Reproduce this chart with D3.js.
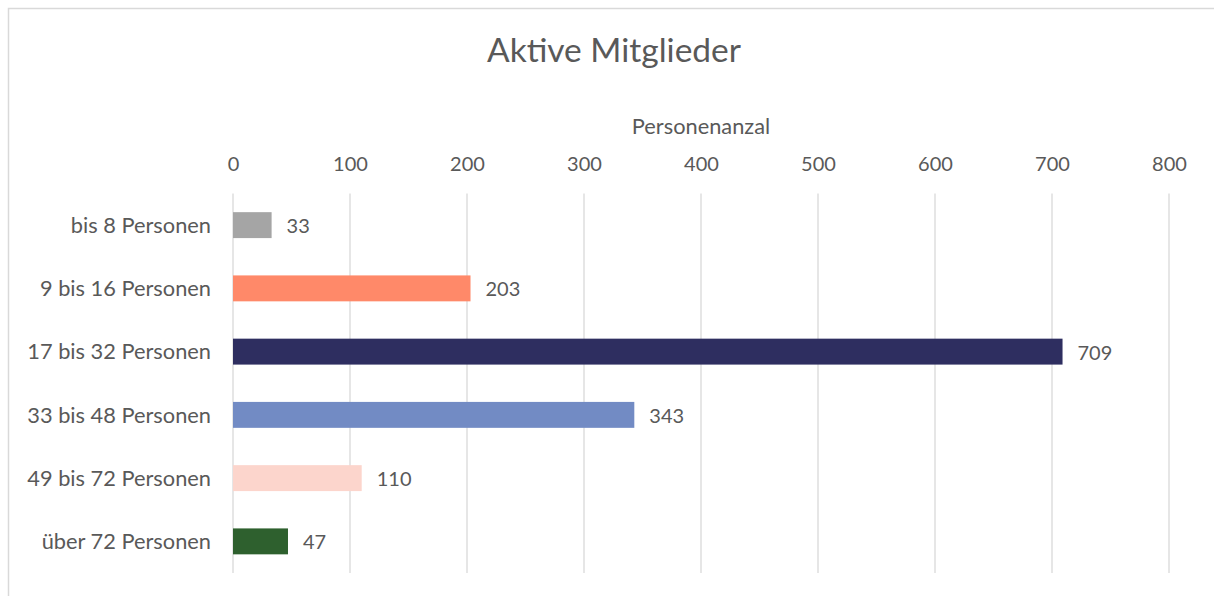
<!DOCTYPE html>
<html>
<head>
<meta charset="utf-8">
<script src="https://cdn.jsdelivr.net/npm/d3@7"></script>
<style>
  body { margin: 0; background: #fff; }
  text { font-family: Lato, "Open Sans", sans-serif; fill: #595959; }
</style>
</head>
<body>
<div id="chart"></div>
<script>
var categories = ["bis 8 Personen", "9 bis 16 Personen", "17 bis 32 Personen",
                  "33 bis 48 Personen", "49 bis 72 Personen", "über 72 Personen"];
var values = [33, 203, 709, 343, 110, 47];
var colors = ["#a5a5a5", "#ff8969", "#2e2e60", "#728bc4", "#fcd5cc", "#2e602e"];
var xTicks = [0, 100, 200, 300, 400, 500, 600, 700, 800];
var chartTitle = "Aktive Mitglieder";
var axisTitle = "Personenanzal";

var W = 1214, H = 596;
var margin = {top: 193.5, right: 44, bottom: 23, left: 233};
var width = W - margin.left - margin.right,
    height = H - margin.top - margin.bottom;

var root = d3.select("#chart").append("svg")
  .attr("width", W)
  .attr("height", H);

// chart area border (only top and left visible in the crop)
root.append("rect")
  .attr("x", 8.5).attr("y", 8.5)
  .attr("width", W).attr("height", H)
  .attr("fill", "none")
  .attr("stroke", "#d9d9d9")
  .attr("stroke-width", 1.5);

root.append("text")
  .attr("x", 614).attr("y", 54)
  .attr("text-anchor", "middle")
  .attr("dominant-baseline", "middle")
  .style("font-size", "33.5px")
  .text(chartTitle);

var svg = root.append("g")
  .attr("transform", "translate(" + margin.left + "," + margin.top + ")");

var x = d3.scaleLinear()
  .domain([0, 800])
  .range([0, 936]);

var y = d3.scaleBand()
  .domain(categories)
  .range([0, height])
  .paddingInner(0.59)
  .paddingOuter(0.295);

// gridlines
svg.append("g")
  .selectAll("line")
  .data(xTicks)
  .join("line")
  .attr("x1", d => x(d)).attr("x2", d => x(d))
  .attr("y1", 0).attr("y2", height)
  .attr("stroke", "#d9d9d9")
  .attr("stroke-width", 1.3);

// top axis labels
var xAxis = svg.append("g")
  .call(d3.axisTop(x).tickValues(xTicks).tickSize(0).tickPadding(0));
xAxis.select(".domain").remove();
xAxis.selectAll("text")
  .attr("y", -30)
  .attr("dy", "0.35em")
  .style("font-size", "20px")
  .attr("fill", "#595959");

svg.append("text")
  .attr("x", x(400)).attr("y", -65)
  .attr("text-anchor", "middle")
  .attr("dominant-baseline", "middle")
  .style("font-size", "21.8px")
  .text(axisTitle);

// category axis
var yAxis = svg.append("g")
  .call(d3.axisLeft(y).tickSize(0).tickPadding(22));
yAxis.select(".domain").remove();
yAxis.selectAll("text")
  .attr("dy", "0.36em")
  .style("font-size", "21.8px")
  .attr("fill", "#595959");

// bars
svg.selectAll(".bar")
  .data(values)
  .join("rect")
  .attr("class", "bar")
  .attr("x", x(0))
  .attr("y", (d, i) => y(categories[i]))
  .attr("width", d => x(d) - x(0))
  .attr("height", y.bandwidth())
  .attr("fill", (d, i) => colors[i]);

// value labels
svg.selectAll(".val")
  .data(values)
  .join("text")
  .attr("class", "val")
  .attr("x", d => x(d) + 15)
  .attr("y", (d, i) => y(categories[i]) + y.bandwidth() / 2 + 1)
  .attr("dy", "0.35em")
  .style("font-size", "20px")
  .text(d => d);
</script>
</body>
</html>
